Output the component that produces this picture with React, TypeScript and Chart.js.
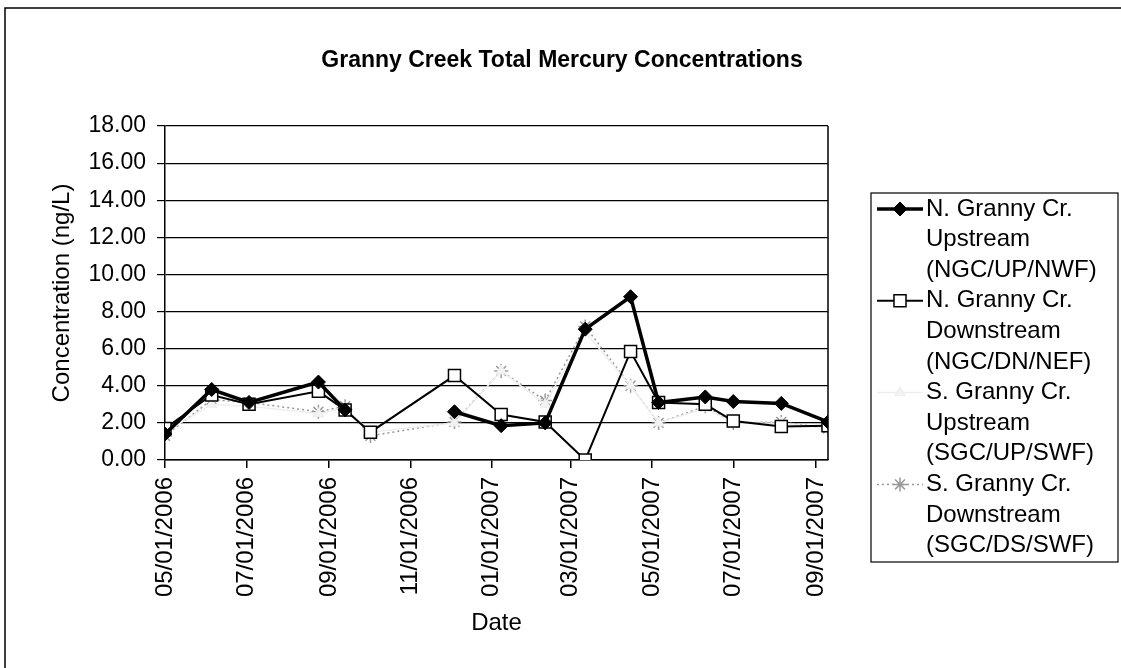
import React, { useEffect, useRef } from 'react';
import { Chart, registerables } from 'chart.js';

Chart.register(...registerables);

const chartTitle = 'Granny Creek Total Mercury Concentrations';
const xAxisTitle = 'Date';
const yAxisTitle = 'Concentration (ng/L)';

// sampling dates (ISO)
const sampleDates = [
  '2006-05-01', '2006-06-05', '2006-07-03', '2006-08-24', '2006-09-13', '2006-10-02',
  '2006-12-04', '2007-01-08', '2007-02-10', '2007-03-12', '2007-04-15', '2007-05-06',
  '2007-06-10', '2007-07-01', '2007-08-06', '2007-09-10',
];

// x-axis tick labels
const xTickLabels = [
  '05/01/2006', '07/01/2006', '09/01/2006', '11/01/2006', '01/01/2007',
  '03/01/2007', '05/01/2007', '07/01/2007', '09/01/2007',
];

const yMin = 0;
const yMax = 18;
const yStep = 2;

const seriesLabelLines = [
  ['N. Granny Cr.', 'Upstream', '(NGC/UP/NWF)'],
  ['N. Granny Cr.', 'Downstream', '(NGC/DN/NEF)'],
  ['S. Granny Cr.', 'Upstream', '(SGC/UP/SWF)'],
  ['S. Granny Cr.', 'Downstream', '(SGC/DS/SWF)'],
];

const nUpstream = [1.4, 3.8, 3.1, 4.2, 2.7, null, 2.6, 1.85, 2.0, 7.05, 8.8, 3.1, 3.4, 3.15, 3.05, 2.05];
const nDownstream = [1.7, 3.5, 3.0, 3.7, 2.7, 1.5, 4.55, 2.45, 2.05, 0.0, 5.85, 3.1, 3.0, 2.1, 1.8, 1.85];
const sUpstream = [1.5, 3.0, 2.9, 2.5, 2.8, 1.5, 2.0, 4.8, 3.0, 6.9, 4.0, 2.0, 2.8, 2.0, 2.0, 1.7];
const sDownstream = [1.3, 3.25, 3.1, 2.6, 2.9, 1.3, 2.05, 4.8, 3.2, 7.2, 4.0, 2.0, 2.9, 2.0, 2.05, 1.7];

const FONT = '"Liberation Sans", Arial, sans-serif';

function isoToMs(iso: string) {
  const [y, m, d] = iso.split('-').map(Number);
  return Date.UTC(y, m - 1, d);
}
function labelToMs(lbl: string) {
  const [m, d, y] = lbl.split('/').map(Number);
  return Date.UTC(y, m - 1, d);
}
function fmtDate(ms: number) {
  const dt = new Date(ms);
  const mm = String(dt.getUTCMonth() + 1).padStart(2, '0');
  const dd = String(dt.getUTCDate()).padStart(2, '0');
  return `${mm}/${dd}/${dt.getUTCFullYear()}`;
}

function drawMarker(ctx: CanvasRenderingContext2D, style: string, cx: number, cy: number, r: number, fill: string, stroke: string, lw: number) {
  ctx.save();
  ctx.setLineDash([]);
  ctx.lineWidth = lw;
  ctx.strokeStyle = stroke;
  ctx.fillStyle = fill;
  ctx.beginPath();
  if (style === 'rectRot') {
    ctx.moveTo(cx, cy - r);
    ctx.lineTo(cx + r, cy);
    ctx.lineTo(cx, cy + r);
    ctx.lineTo(cx - r, cy);
    ctx.closePath();
    ctx.fill();
    ctx.stroke();
  } else if (style === 'rect') {
    const h = r * Math.SQRT1_2;
    ctx.rect(cx - h, cy - h, 2 * h, 2 * h);
    ctx.fill();
    ctx.stroke();
  } else if (style === 'star') {
    ctx.moveTo(cx - r, cy); ctx.lineTo(cx + r, cy);
    ctx.moveTo(cx, cy - r); ctx.lineTo(cx, cy + r);
    const d = r * Math.SQRT1_2;
    ctx.moveTo(cx - d, cy - d); ctx.lineTo(cx + d, cy + d);
    ctx.moveTo(cx - d, cy + d); ctx.lineTo(cx + d, cy - d);
    ctx.stroke();
  } else if (style === 'triangle') {
    ctx.moveTo(cx, cy - r);
    ctx.lineTo(cx + r * 0.87, cy + r * 0.5);
    ctx.lineTo(cx - r * 0.87, cy + r * 0.5);
    ctx.closePath();
    ctx.fill();
    ctx.stroke();
  }
  ctx.restore();
}

const decorPlugin = {
  id: 'decor',
  beforeDraw(chart: any) {
    const { ctx, width, height } = chart;
    ctx.save();
    ctx.fillStyle = '#ffffff';
    ctx.fillRect(0, 0, width, height);
    ctx.restore();
  },
  afterDraw(chart: any) {
    const { ctx, chartArea: ca, width, height } = chart;
    ctx.save();
    // right edge of plot area
    ctx.strokeStyle = '#000';
    ctx.lineWidth = 1.5;
    ctx.beginPath();
    ctx.moveTo(ca.right, ca.top);
    ctx.lineTo(ca.right, ca.bottom);
    ctx.stroke();
    // outer frame (top & left visible)
    ctx.beginPath();
    ctx.moveTo(5, height + 2);
    ctx.lineTo(5, 8);
    ctx.lineTo(width + 2, 8);
    ctx.stroke();
    // title
    ctx.fillStyle = '#000';
    ctx.font = `bold 23px ${FONT}`;
    ctx.textAlign = 'center';
    ctx.textBaseline = 'middle';
    ctx.fillText(chartTitle, 562, 61);

    // legend
    const bx = 871, by = 193, bw = 247, bh = 369;
    ctx.lineWidth = 1.2;
    ctx.strokeStyle = '#000';
    ctx.strokeRect(bx, by, bw, bh);
    const lineH = 30.6;
    const firstY = 209;
    ctx.font = `24px ${FONT}`;
    ctx.textAlign = 'left';
    chart.data.datasets.forEach((ds: any, i: number) => {
      const lines = seriesLabelLines[i];
      const y0 = firstY + i * 3 * lineH;
      ctx.save();
      ctx.strokeStyle = ds.borderColor;
      ctx.lineWidth = ds.borderWidth;
      ctx.setLineDash(ds.borderDash || []);
      ctx.beginPath();
      ctx.moveTo(877, y0);
      ctx.lineTo(923, y0);
      ctx.stroke();
      ctx.restore();
      drawMarker(ctx, ds.pointStyle, 900, y0, ds.pointRadius, ds.pointBackgroundColor, ds.pointBorderColor, ds.pointBorderWidth);
      ctx.fillStyle = '#000';
      lines.forEach((t, k) => {
        ctx.fillText(t, 926, y0 + k * lineH);
      });
    });
    ctx.restore();
  },
};

export default function App() {
  const canvasRef = useRef<HTMLCanvasElement | null>(null);

  useEffect(() => {
    if (!canvasRef.current) return;
    const xs = sampleDates.map(isoToMs);
    const mk = (vals: (number | null)[]) => xs.map((x, i) => ({ x, y: vals[i] }));
    const tickValues = xTickLabels.map(labelToMs);

    const chart = new Chart(canvasRef.current, {
      type: 'line',
      data: {
        datasets: [
          {
            label: seriesLabelLines[0].join(' '),
            data: mk(nUpstream),
            borderColor: '#000000',
            borderWidth: 3.5,
            pointStyle: 'rectRot',
            pointRadius: 7,
            pointBackgroundColor: '#000000',
            pointBorderColor: '#000000',
            pointBorderWidth: 1,
            spanGaps: false,
            tension: 0,
          },
          {
            label: seriesLabelLines[1].join(' '),
            data: mk(nDownstream),
            borderColor: '#000000',
            borderWidth: 2,
            pointStyle: 'rect',
            pointRadius: 8.5,
            pointBackgroundColor: '#ffffff',
            pointBorderColor: '#000000',
            pointBorderWidth: 1.5,
            tension: 0,
          },
          {
            label: seriesLabelLines[2].join(' '),
            data: mk(sUpstream),
            borderColor: '#eeeeee',
            borderWidth: 1.5,
            pointStyle: 'triangle',
            pointRadius: 6,
            pointBackgroundColor: '#f2f2f2',
            pointBorderColor: '#eeeeee',
            pointBorderWidth: 1,
            tension: 0,
          },
          {
            label: seriesLabelLines[3].join(' '),
            data: mk(sDownstream),
            borderColor: '#999999',
            borderWidth: 1.5,
            borderDash: [2, 3],
            pointStyle: 'star',
            pointRadius: 7,
            pointBackgroundColor: '#ffffff',
            pointBorderColor: '#999999',
            pointBorderWidth: 1.5,
            tension: 0,
          },
        ] as any,
      },
      options: {
        animation: false,
        responsive: true,
        maintainAspectRatio: false,
        layout: { padding: { left: 0, top: 126, right: 293, bottom: 0 } },
        plugins: {
          legend: { display: false },
          title: { display: false },
          tooltip: { enabled: false },
        },
        scales: {
          x: {
            type: 'linear',
            min: xs[0],
            max: xs[xs.length - 1],
            afterBuildTicks: (s: any) => {
              s.ticks = tickValues.map((v) => ({ value: v }));
            },
            afterFit: (s: any) => {
              s.height = 208;
            },
            ticks: {
              autoSkip: false,
              minRotation: 90,
              maxRotation: 90,
              padding: 9,
              color: '#000',
              font: { family: FONT, size: 24 },
              callback: (v: any) => fmtDate(Number(v)),
            },
            grid: { drawOnChartArea: false, drawTicks: true, tickLength: 8, color: '#000', lineWidth: 1.5 },
            border: { color: '#000', width: 1.5 },
            title: {
              display: true,
              text: xAxisTitle,
              color: '#000',
              font: { family: FONT, size: 24 },
              padding: { top: 0, bottom: 30 },
            },
          },
          y: {
            min: yMin,
            max: yMax,
            afterFit: (s: any) => {
              s.width = 165;
            },
            ticks: {
              stepSize: yStep,
              padding: 11,
              color: '#000',
              font: { family: FONT, size: 23 },
              callback: (v: any) => Number(v).toFixed(2),
            },
            grid: { color: '#000', lineWidth: 1.2, drawTicks: true, tickLength: 8 },
            border: { color: '#000', width: 1.5 },
            title: {
              display: true,
              text: yAxisTitle,
              color: '#000',
              font: { family: FONT, size: 24 },
              padding: { top: 48, bottom: 0 },
            },
          },
        },
      } as any,
      plugins: [decorPlugin],
    });
    return () => chart.destroy();
  }, []);

  return (
    <div style={{ position: 'absolute', left: 0, top: 0, width: 1121, height: 668, background: '#fff' }}>
      <canvas ref={canvasRef} />
    </div>
  );
}
